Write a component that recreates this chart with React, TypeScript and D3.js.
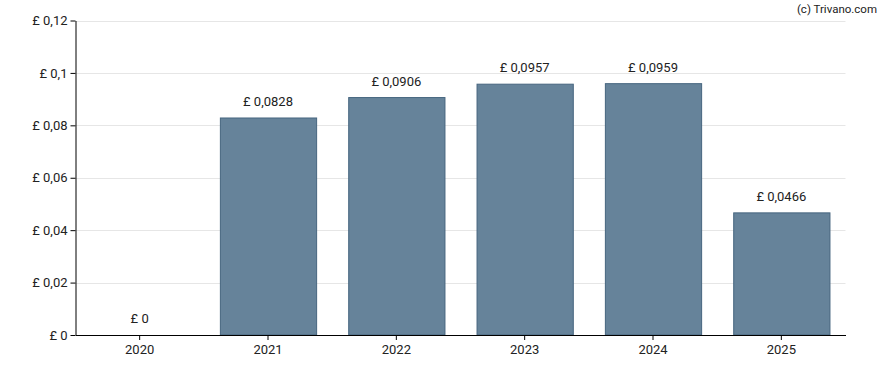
import { useEffect, useRef } from "react";
import * as d3 from "d3";

const years = ["2020", "2021", "2022", "2023", "2024", "2025"];
const dividends = [0, 0.0828, 0.0906, 0.0957, 0.0959, 0.0466];
const yTicks = [0, 0.02, 0.04, 0.06, 0.08, 0.1, 0.12];

const fmt = (v: number) => "£ " + String(v).replace(".", ",");

const App = () => {
  const chartRef = useRef<SVGSVGElement | null>(null);

  useEffect(() => {
    if (!chartRef.current) return;
    d3.select(chartRef.current).selectAll("*").remove();

    const width = 888,
      height = 370,
      margin = { top: 20.5, right: 42.5, bottom: 35, left: 75.5 };

    const svg = d3
      .select(chartRef.current)
      .attr("width", width)
      .attr("height", height)
      .style("font-family", "Roboto, sans-serif");

    const x = d3
      .scaleBand()
      .domain(years)
      .range([margin.left, width - margin.right])
      .paddingInner(0.25)
      .paddingOuter(0.125);
    const y = d3
      .scaleLinear()
      .domain([0, 0.12])
      .range([height - margin.bottom, margin.top]);

    // gridlines
    svg
      .append("g")
      .selectAll("line")
      .data(yTicks.slice(1))
      .enter()
      .append("line")
      .attr("x1", margin.left)
      .attr("x2", width - margin.right)
      .attr("y1", (d) => Math.round(y(d)) + 0.5)
      .attr("y2", (d) => Math.round(y(d)) + 0.5)
      .attr("stroke", "#e6e6e6")
      .attr("stroke-width", 1);

    // bars
    svg
      .append("g")
      .selectAll("rect")
      .data(dividends)
      .enter()
      .filter((d) => d > 0)
      .append("rect")
      .attr("x", (_, i) => x(years[i + 1])! + 0.5)
      .attr("y", (d) => y(d))
      .attr("width", x.bandwidth())
      .attr("height", (d) => y(0) - y(d))
      .attr("fill", "#66839a")
      .attr("stroke", "#46657f")
      .attr("stroke-width", 1);

    // value labels
    svg
      .append("g")
      .selectAll("text")
      .data(dividends)
      .enter()
      .append("text")
      .attr("x", (_, i) => x(years[i])! + x.bandwidth() / 2)
      .attr("y", (d) => y(d) - 12)
      .attr("text-anchor", "middle")
      .attr("font-size", 13)
      .attr("fill", "#222")
      .text((d) => fmt(d));

    // y axis
    const yAxis = svg
      .append("g")
      .attr("transform", `translate(${margin.left},0)`)
      .call(
        d3
          .axisLeft(y)
          .tickValues(yTicks)
          .tickSize(5)
          .tickSizeOuter(0)
          .tickFormat((d) => fmt(d as number))
      );
    yAxis.select(".domain").attr("stroke", "#000");
    yAxis
      .selectAll("text")
      .attr("font-size", 13)
      .attr("font-family", "Roboto, sans-serif")
      .attr("fill", "#222")
      .attr("x", -8);

    // x axis
    const xAxis = svg
      .append("g")
      .attr("transform", `translate(0,${height - margin.bottom})`)
      .call(d3.axisBottom(x).tickSize(5).tickSizeOuter(0));
    xAxis.select(".domain").attr("stroke", "#000");
    xAxis
      .selectAll("text")
      .attr("font-size", 13)
      .attr("font-family", "Roboto, sans-serif")
      .attr("fill", "#222")
      .attr("y", 10);

    svg
      .append("text")
      .attr("x", 877)
      .attr("y", 13)
      .attr("text-anchor", "end")
      .attr("font-size", 11.5)
      .attr("fill", "#222")
      .text("(c) Trivano.com");
  }, []);

  return (
    <svg
      ref={chartRef}
      style={{ position: "absolute", left: 0, top: 0 }}
    ></svg>
  );
};

export default App;
